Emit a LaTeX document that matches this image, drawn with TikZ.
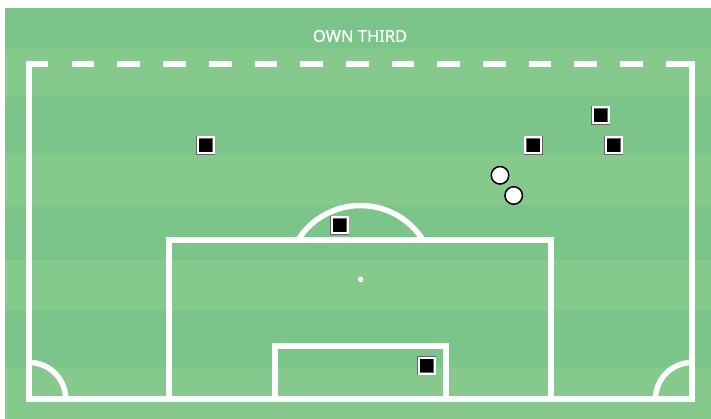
\documentclass[tikz,border=0pt]{standalone}
\usepackage{fontspec}
\setmainfont{Noto Sans}
\newfontfamily\titlefont[FakeBold=0.9]{Noto Sans}
\definecolor{gdark}{HTML}{7BC48A}
\definecolor{glight}{HTML}{85C98D}
\begin{document}
\begin{tikzpicture}[x=1pt,y=-1pt,
  pline/.style={white, line width=5.5pt},
  opp/.style={rectangle, fill=black, draw=black!60, double=white, double distance=2pt, line width=0.5pt, minimum size=16pt, inner sep=0pt},
  own/.style={circle, fill=white, draw=black, line width=1.5pt, minimum size=17.5pt, inner sep=0pt}]
\useasboundingbox (0,0) rectangle (711,419);
\fill[white] (0,0) rectangle (711,419);
\foreach \a/\b/\c in {8/49/gdark, 49/97/glight, 97/155/gdark, 155/205/glight, 205/260/gdark, 260/310/glight, 310/367/gdark, 367/419/glight}
  \fill[\c] (4.5,\a) rectangle (711,\b);
\node[text=white, font=\titlefont\fontsize{16.5}{19}\selectfont, inner sep=0pt] (title) at (360,36) {OWN THIRD};
% outer field
\draw[pline] (48.3,64) -- (29.2,64) -- (29.2,399) -- (692,399) -- (692,64) -- (666,64);
\foreach \i in {0,...,12}
  \draw[pline] ({71.7+45.7*\i},64) -- ++(22.7,0);
% penalty box
\draw[pline] (169,399) -- (169,240) -- (551,240) -- (551,399);
% goal box
\draw[pline] (275,399) -- (275,346) -- (446,346) -- (446,399);
% penalty arc
\draw[pline] (297.9,240) arc[start angle=212.3, end angle=327.7, radius=74];
\node[circle, fill=white, inner sep=0pt, minimum size=5.5pt] (spot) at (360.6,279.4) {};
% corner arcs
\draw[pline] (29.2,362.5) arc[start angle=270, end angle=360, radius=36.5];
\draw[pline] (655.5,399) arc[start angle=180, end angle=270, radius=36.5];
% opponents
\node[opp] (o1) at (205.5,145.5) {};
\node[opp] (o2) at (533.3,145.2) {};
\node[opp] (o3) at (600.5,115.2) {};
\node[opp] (o4) at (613.5,145.2) {};
\node[opp] (o5) at (339.5,225.5) {};
\node[opp] (o6) at (426.5,365.5) {};
% own players
\node[own] (p1) at (500,175.3) {};
\node[own] (p2) at (513.7,195.5) {};
\end{tikzpicture}
\end{document}
